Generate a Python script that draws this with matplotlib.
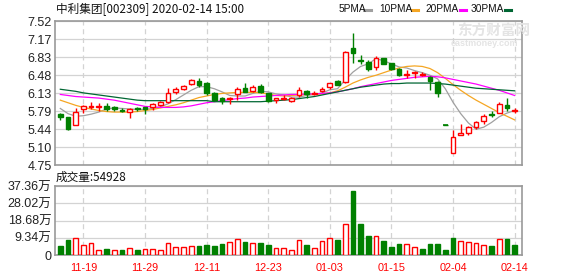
import matplotlib
matplotlib.use('Agg')
import matplotlib.pyplot as plt
from matplotlib.lines import Line2D
import numpy as np

# trading days shown (11-14 .. 02-14)
dates = ['11-14', '11-15', '11-18', '11-19', '11-20', '11-21', '11-22', '11-25', '11-26', '11-27',
         '11-28', '11-29', '12-02', '12-03', '12-04', '12-05', '12-06', '12-09', '12-10', '12-11',
         '12-12', '12-13', '12-16', '12-17', '12-18', '12-19', '12-20', '12-23', '12-24', '12-25',
         '12-26', '12-27', '12-30', '12-31', '01-02', '01-03', '01-06', '01-07', '01-08', '01-09',
         '01-10', '01-13', '01-14', '01-15', '01-16', '01-17', '01-20', '01-21', '01-22', '01-23',
         '02-03', '02-04', '02-05', '02-06', '02-07', '02-10', '02-11', '02-12', '02-13', '02-14']
tick_dates = ['11-19', '11-29', '12-11', '12-23', '01-03', '01-15', '02-04', '02-14']

opens = [5.73, 5.67, 5.52, 5.83, 5.87, 5.87, 5.88, 5.86, 5.81, 5.78,
         5.84, 5.86, 5.86, 5.91, 5.96, 6.15, 6.21, 6.32, 6.37, 6.33,
         6.14, 6.05, 6.02, 6.12, 6.23, 6.18, 6.28, 6.13, 6.00, 6.02,
         5.99, 6.10, 6.18, 6.11, 6.17, 6.25, 6.36, 6.35, 7.01, 6.77,
         6.73, 6.64, 6.81, 6.71, 6.61, 6.49, 6.52, 6.49, 6.45, 6.35,
         5.52, 4.99, 5.32, 5.36, 5.49, 5.59, 5.73, 5.76, 5.91, 5.80]
closes = [5.67, 5.45, 5.78, 5.88, 5.88, 5.88, 5.83, 5.83, 5.80, 5.82,
          5.83, 5.83, 5.92, 5.96, 6.13, 6.21, 6.27, 6.39, 6.30, 6.14,
          6.00, 5.98, 6.05, 6.21, 6.16, 6.26, 6.16, 5.99, 6.04, 6.04,
          6.05, 6.19, 6.12, 6.14, 6.22, 6.34, 6.30, 6.93, 6.91, 6.76,
          6.61, 6.81, 6.70, 6.61, 6.48, 6.50, 6.55, 6.50, 6.37, 6.14,
          5.52, 5.29, 5.36, 5.48, 5.57, 5.70, 5.72, 5.92, 5.85, 5.81]
highs = [5.76, 5.67, 5.85, 5.91, 5.97, 5.95, 5.94, 5.89, 5.85, 5.85,
         5.87, 5.87, 5.94, 5.99, 6.23, 6.26, 6.30, 6.41, 6.43, 6.35,
         6.16, 6.07, 6.06, 6.25, 6.33, 6.30, 6.31, 6.14, 6.05, 6.10,
         6.07, 6.25, 6.19, 6.18, 6.25, 6.34, 6.39, 6.94, 7.30, 6.87,
         6.77, 6.85, 6.82, 6.72, 6.62, 6.58, 6.56, 6.55, 6.46, 6.36,
         5.52, 5.43, 5.54, 5.51, 5.59, 5.74, 5.79, 5.96, 6.04, 5.85]
lows = [5.61, 5.43, 5.52, 5.75, 5.83, 5.79, 5.79, 5.79, 5.77, 5.65,
        5.80, 5.74, 5.81, 5.88, 5.94, 6.12, 6.20, 6.30, 6.26, 6.10,
        5.99, 5.93, 5.93, 6.00, 6.15, 6.16, 6.13, 5.97, 5.94, 6.00,
        5.97, 6.07, 6.04, 6.09, 6.16, 6.22, 6.30, 6.33, 6.72, 6.70,
        6.57, 6.58, 6.69, 6.59, 6.46, 6.42, 6.42, 6.46, 6.19, 6.06,
        5.52, 4.98, 5.32, 5.32, 5.45, 5.54, 5.67, 5.75, 5.79, 5.75]

ma5 = [5.84, 5.74, 5.69, 5.70, 5.73, 5.77, 5.83, 5.85, 5.84, 5.83,
       5.82, 5.82, 5.84, 5.87, 5.93, 6.01, 6.10, 6.19, 6.26, 6.26,
       6.22, 6.16, 6.09, 6.08, 6.08, 6.13, 6.17, 6.16, 6.12, 6.10,
       6.06, 6.06, 6.09, 6.11, 6.14, 6.20, 6.22, 6.39, 6.54, 6.65,
       6.70, 6.80, 6.76, 6.70, 6.64, 6.62, 6.57, 6.53, 6.48, 6.41,
       6.22, 5.96, 5.74, 5.56, 5.44, 5.48, 5.57, 5.68, 5.75, 5.80]
ma10 = [6.00, 5.95, 5.90, 5.86, 5.83, 5.80, 5.78, 5.77, 5.77, 5.77,
        5.78, 5.80, 5.82, 5.85, 5.88, 5.91, 5.95, 6.00, 6.05, 6.08,
        6.11, 6.13, 6.14, 6.15, 6.15, 6.15, 6.14, 6.12, 6.09, 6.08,
        6.09, 6.10, 6.11, 6.11, 6.12, 6.14, 6.18, 6.25, 6.33, 6.39,
        6.44, 6.48, 6.53, 6.58, 6.62, 6.65, 6.66, 6.65, 6.61, 6.53,
        6.42, 6.30, 6.19, 6.09, 6.00, 5.92, 5.84, 5.76, 5.69, 5.62]
ma20 = [6.11, 6.09, 6.07, 6.06, 6.05, 6.04, 6.02, 6.00, 5.97, 5.94,
        5.91, 5.88, 5.87, 5.86, 5.86, 5.86, 5.87, 5.89, 5.92, 5.95,
        5.97, 5.99, 6.01, 6.03, 6.04, 6.06, 6.07, 6.08, 6.09, 6.10,
        6.11, 6.11, 6.12, 6.12, 6.13, 6.14, 6.16, 6.19, 6.22, 6.26,
        6.29, 6.32, 6.35, 6.38, 6.40, 6.42, 6.44, 6.45, 6.46, 6.45,
        6.43, 6.40, 6.37, 6.34, 6.31, 6.27, 6.23, 6.19, 6.14, 6.09]
ma30 = [6.21, 6.19, 6.17, 6.14, 6.12, 6.10, 6.08, 6.06, 6.04, 6.02,
        6.00, 5.99, 5.99, 5.99, 5.99, 5.99, 5.99, 5.99, 5.99, 5.99,
        5.97, 5.97, 5.97, 5.97, 5.97, 5.97, 5.97, 5.98, 5.99, 6.00,
        6.01, 6.03, 6.05, 6.07, 6.10, 6.13, 6.16, 6.19, 6.22, 6.25,
        6.27, 6.29, 6.31, 6.32, 6.32, 6.33, 6.33, 6.33, 6.33, 6.32,
        6.31, 6.29, 6.27, 6.25, 6.23, 6.22, 6.21, 6.20, 6.19, 6.18]

# volume in 万 (10k), and bar colour as drawn (1 = red/up, 0 = green/down)
volumes = [4.9, 8.2, 9.1, 5.4, 6.3, 2.5, 3.3, 2.5, 2.7, 3.6,
           2.7, 3.1, 3.1, 2.5, 6.3, 4.2, 4.2, 4.7, 4.9, 5.4,
           4.9, 6.0, 6.9, 8.5, 7.1, 6.3, 6.5, 5.4, 3.6, 3.6,
           2.9, 8.0, 5.4, 3.6, 7.4, 9.1, 8.2, 16.7, 34.8, 16.7,
           10.3, 10.2, 7.6, 4.4, 6.0, 5.8, 4.2, 3.3, 6.0, 6.0,
           2.7, 9.2, 7.4, 6.9, 6.3, 5.3, 4.9, 8.5, 8.7, 5.49]
vol_up = [0, 0, 1, 1, 1, 1, 0, 1, 0, 1,
          0, 1, 1, 1, 1, 1, 1, 1, 0, 0,
          0, 0, 1, 1, 0, 1, 0, 0, 1, 1,
          1, 1, 0, 1, 1, 1, 0, 1, 0, 0,
          0, 1, 0, 0, 0, 1, 1, 0, 0, 0,
          0, 0, 1, 1, 1, 1, 0, 1, 0, 0]

price_ticks = ['4.75', '5.10', '5.44', '5.79', '6.13', '6.48', '6.83', '7.17', '7.52']
vol_ticks = [0, 9.34, 18.68, 28.02, 37.36]

RED = '#ff0000'
GREEN = '#008000'
MA_COLORS = ['#a0a0a0', '#f5a623', '#ff00ff', '#006633']
GRID = '#d3d3d3'
FRAME = '#999999'
NUMFONT = ['Liberation Sans', 'Noto Sans CJK SC']
CJK = ['Noto Sans CJK SC', 'DejaVu Sans']

W, H = 578, 276
fig = plt.figure(figsize=(W / 100, H / 100), dpi=100)


def fx(px):
    return px / W


def fy(py):
    return 1 - py / H


ax = fig.add_axes([fx(55), fy(165), (522 - 55) / W, (165 - 21.3) / H])
axv = fig.add_axes([fx(55), fy(255), (522 - 55) / W, (255 - 186) / H])

x = np.arange(len(dates))
o = np.array(opens)
c = np.array(closes)
prev = np.concatenate([[o[0]], c[:-1]])
# one-price days (o == c) take their colour from the change vs previous close
up = (c > o) | ((c == o) & (c >= prev))
col = np.where(up, RED, GREEN)
bw = 0.62

# candles
ax.vlines(x, lows, highs, colors=col, lw=1, zorder=3)
bottom = np.minimum(o, c)
height = np.abs(c - o)
ax.bar(x, height, width=bw, bottom=bottom, facecolor=np.where(up, 'white', GREEN),
       edgecolor=col, lw=1, zorder=4)
flat = height < 0.006
ax.hlines(c[flat], x[flat] - bw / 2, x[flat] + bw / 2, colors=col[flat], lw=1.2, zorder=5)

for ma, mc in zip([ma5, ma10, ma20, ma30], MA_COLORS):
    ax.plot(x, ma, color=mc, lw=0.9, zorder=2)

lo, hi = float(price_ticks[0]), float(price_ticks[-1])
ax.set_ylim(lo, hi)
ax.set_yticks(np.linspace(lo, hi, len(price_ticks)))
ax.set_yticklabels(price_ticks)

# volume
vu = np.array(vol_up, dtype=bool)
axv.bar(x, volumes, width=bw, facecolor=np.where(vu, 'white', GREEN),
        edgecolor=np.where(vu, RED, GREEN), lw=1, zorder=3)
axv.set_ylim(0, vol_ticks[-1])
axv.set_yticks(vol_ticks)
axv.set_yticklabels(['0'] + ['%.2f万' % v for v in vol_ticks[1:]])

tick_pos = [dates.index(d) for d in tick_dates]
for a in (ax, axv):
    a.set_xlim(-0.69, 59.96)
    a.set_xticks(tick_pos)
    a.grid(axis='y', color=GRID, lw=0.9, ls='-', zorder=0)
    a.grid(axis='x', color=GRID, lw=0.9, ls=(0, (4, 3)), zorder=0)
    a.set_axisbelow(True)
    a.tick_params(length=0, pad=2.5, labelsize=9, labelcolor='#222222')
    for s in a.spines.values():
        s.set_color(FRAME)
        s.set_linewidth(1.2)
    for t in a.get_yticklabels():
        t.set_family(NUMFONT)
ax.set_xticklabels([])
axv.set_xticklabels(tick_dates, color=RED, fontsize=7.8, family=NUMFONT)
axv.tick_params(axis='x', pad=5.5)

# header texts
fig.text(fx(56), fy(9.5), '中利集团[002309] 2020-02-14 15:00', fontsize=8.4,
         family=CJK, va='center', ha='left', color='#111111')
fig.text(fx(56), fy(177.5), '成交量:54928', fontsize=8.4,
         family=CJK, va='center', ha='left', color='#111111')

# legend
leg = [('5PMA', 338.5, 364.5), ('10PMA', 379.5, 412), ('20PMA', 425, 459.5), ('30PMA', 471, 505)]
for (name, tx, lx), mc in zip(leg, MA_COLORS):
    fig.text(fx(tx), fy(9.5), name, fontsize=7.3, family=NUMFONT, va='center', ha='left', color='#111111')
    fig.add_artist(Line2D([fx(lx), fx(lx + 6)], [fy(9.5), fy(9.5)], color=mc, lw=2.2,
                          transform=fig.transFigure))

# watermark
fig.text(fx(457), fy(31), '东方财富网', fontsize=10.5, family=CJK, fontweight='bold',
         va='center', ha='left', color='#e4e4e4', zorder=0)
fig.text(fx(451), fy(43), 'eastmoney.com', fontsize=6.5, family=NUMFONT, fontweight='bold',
         va='center', ha='left', color='#e4e4e4', zorder=0)

fig.savefig('out.png', dpi=100)
